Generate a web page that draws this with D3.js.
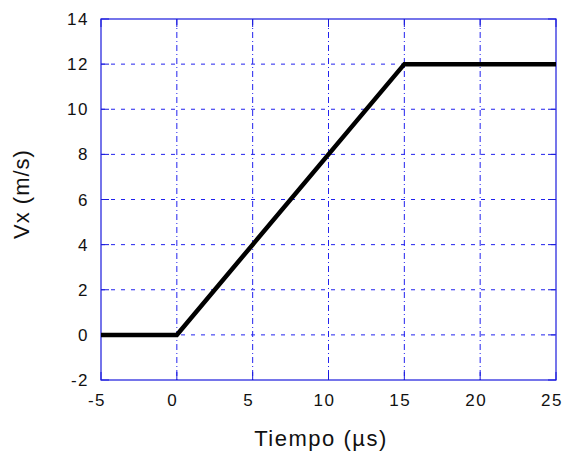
<!DOCTYPE html>
<html>
<head>
<meta charset="utf-8">
<script src="https://cdn.jsdelivr.net/npm/d3@7"></script>
<style>
  body { margin: 0; background: #fff; }
  text { font-family: "Liberation Sans", Arial, sans-serif; fill: #111; }
</style>
</head>
<body>
<div id="chart"></div>
<script>
// data
const timeUs = [-5, 0, 15, 25];
const velocity = [0, 0, 12, 12];
const xTicks = [-5, 0, 5, 10, 15, 20, 25];
const yTicks = [-2, 0, 2, 4, 6, 8, 10, 12, 14];

const W = 563, H = 453;
const margin = { top: 19, right: 7, bottom: 73, left: 101 };
const width = W - margin.left - margin.right;
const height = H - margin.top - margin.bottom;

const svg = d3.select("#chart").append("svg")
    .attr("width", W)
    .attr("height", H);

const g = svg.append("g")
    .attr("transform", "translate(" + margin.left + "," + margin.top + ")");

const x = d3.scaleLinear().domain([-5, 25]).range([0, width]);
const y = d3.scaleLinear().domain([-2, 14]).range([height, 0]);

// grid
g.selectAll(".vgrid").data(xTicks.slice(1, -1)).join("line")
    .attr("x1", d => x(d)).attr("x2", d => x(d))
    .attr("y1", 0).attr("y2", height)
    .attr("stroke", "#2222ee").attr("stroke-width", 1)
    .attr("stroke-dasharray", "6,3,1,3");

g.selectAll(".hgrid").data(yTicks.slice(1, -1)).join("line")
    .attr("x1", 0).attr("x2", width)
    .attr("y1", d => y(d)).attr("y2", d => y(d))
    .attr("stroke", "#2222ee").attr("stroke-width", 1)
    .attr("stroke-dasharray", "4,6");

// frame
g.append("rect")
    .attr("width", width).attr("height", height)
    .attr("fill", "none").attr("stroke", "#1a1add").attr("stroke-width", 1.2);

// inner ticks on all four sides
const tickLen = 8;
g.selectAll(".tl").data(yTicks).join("line")
    .attr("x1", 0).attr("x2", tickLen).attr("y1", d => y(d)).attr("y2", d => y(d))
    .attr("stroke", "#1a1add");
g.selectAll(".tr").data(yTicks).join("line")
    .attr("x1", width - tickLen).attr("x2", width).attr("y1", d => y(d)).attr("y2", d => y(d))
    .attr("stroke", "#1a1add");
g.selectAll(".tb").data(xTicks).join("line")
    .attr("x1", d => x(d)).attr("x2", d => x(d)).attr("y1", height - tickLen).attr("y2", height)
    .attr("stroke", "#1a1add");
g.selectAll(".tt").data(xTicks).join("line")
    .attr("x1", d => x(d)).attr("x2", d => x(d)).attr("y1", 0).attr("y2", tickLen)
    .attr("stroke", "#1a1add");

// tick labels
g.selectAll(".xl").data(xTicks).join("text")
    .attr("x", d => x(d) - 4).attr("y", height + 26)
    .attr("text-anchor", "middle")
    .style("font-size", "17px").style("letter-spacing", "1.5px")
    .text(d => d);

g.selectAll(".yl").data(yTicks).join("text")
    .attr("x", -12).attr("y", d => y(d) + 6)
    .attr("text-anchor", "end")
    .style("font-size", "17px").style("letter-spacing", "1.5px")
    .text(d => d);

// data line
const line = d3.line().x((d, i) => x(timeUs[i])).y(d => y(d));
g.append("path")
    .datum(velocity)
    .attr("d", line)
    .attr("fill", "none")
    .attr("stroke", "#000")
    .attr("stroke-width", 4.5)
    .attr("stroke-linejoin", "miter");

// axis titles
svg.append("text")
    .attr("x", 321).attr("y", 446)
    .attr("text-anchor", "middle")
    .style("font-size", "22px").style("letter-spacing", "1.5px")
    .text("Tiempo (\u00b5s)");

svg.append("text")
    .attr("transform", "translate(29,194) rotate(-90)")
    .attr("text-anchor", "middle")
    .style("font-size", "22px").style("letter-spacing", "1px")
    .text("Vx (m/s)");
</script>
</body>
</html>
